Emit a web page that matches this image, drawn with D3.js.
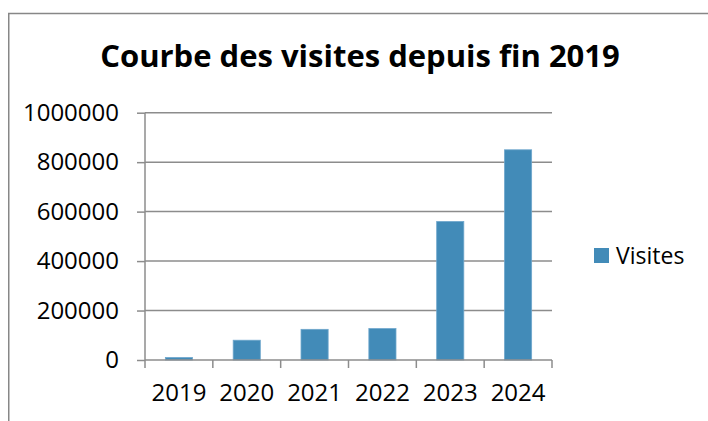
<!DOCTYPE html>
<meta charset="utf-8">
<script src="https://d3js.org/d3.v7.min.js"></script>
<style>
  body { margin: 0; background: #fff; }
  text { font-family: "Open Sans", sans-serif; fill: #000; }
</style>
<div id="chart"></div>
<script>
  // data
  const years = ["2019", "2020", "2021", "2022", "2023", "2024"];
  const visites = [10000, 80000, 124000, 127000, 560000, 850000];
  const yTicks = [0, 200000, 400000, 600000, 800000, 1000000];
  const seriesName = "Visites";
  const title = "Courbe des visites depuis fin 2019";

  const W = 708, H = 421;
  const margin = { top: 112.7, right: 156, bottom: 61, left: 145 };
  const width = W - margin.left - margin.right,
    height = H - margin.top - margin.bottom;

  const svg = d3.select("#chart").append("svg")
    .attr("width", W).attr("height", H);

  // outer frame
  svg.append("path")
    .attr("d", `M8.75,${H + 2}V13.5H${W + 2}`)
    .attr("fill", "none").attr("stroke", "#878787").attr("stroke-width", 1.5);

  svg.append("text")
    .attr("x", 360).attr("y", 67.3)
    .attr("text-anchor", "middle")
    .style("font-size", "31px").style("font-weight", "bold")
    .text(title);

  const g = svg.append("g").attr("transform", `translate(${margin.left},${margin.top})`);

  const x = d3.scaleBand().domain(years).range([0, width]).paddingInner(0.6).paddingOuter(0.3);
  const y = d3.scaleLinear().domain([0, 1000000]).range([height, 0]);

  // gridlines
  g.selectAll(".grid").data(yTicks.slice(1)).join("line")
    .attr("x1", 0).attr("x2", width)
    .attr("y1", d => y(d)).attr("y2", d => y(d))
    .attr("stroke", "#8c8c8c").attr("stroke-width", 1.5);

  // bars
  g.selectAll("rect").data(visites).join("rect")
    .attr("x", (d, i) => x(years[i]))
    .attr("y", d => y(d))
    .attr("width", x.bandwidth())
    .attr("height", d => height - y(d))
    .attr("fill", "#428bb8")
    .attr("stroke", "#6ea6cc").attr("stroke-width", 0.8);

  // y axis
  const yAxis = g.append("g")
    .call(d3.axisLeft(y).tickValues(yTicks).tickFormat(d3.format("d")).tickSize(8).tickPadding(18));
  yAxis.select(".domain").remove();
  yAxis.append("line").attr("y1", 0).attr("y2", height)
    .attr("stroke", "#8c8c8c").attr("stroke-width", 1.5);
  yAxis.selectAll(".tick line").attr("stroke", "#8c8c8c").attr("stroke-width", 1.5);
  yAxis.selectAll("text").style("font-size", "24px").attr("fill", "#000");

  // x axis
  const xAxis = g.append("g").attr("transform", `translate(0,${height})`)
    .call(d3.axisBottom(x).tickSize(0).tickPadding(24));
  xAxis.select(".domain").remove();
  xAxis.append("line").attr("x1", 0).attr("x2", width)
    .attr("stroke", "#8c8c8c").attr("stroke-width", 1.5);
  xAxis.selectAll(".bound").data(d3.range(years.length + 1)).join("line")
    .attr("x1", i => i * x.step()).attr("x2", i => i * x.step())
    .attr("y1", 0).attr("y2", 8)
    .attr("stroke", "#8c8c8c").attr("stroke-width", 1.5);
  xAxis.selectAll("text").style("font-size", "24px").attr("fill", "#000");

  // legend
  const leg = svg.append("g").attr("transform", "translate(594,248)");
  leg.append("rect").attr("width", 15).attr("height", 15).attr("fill", "#428bb8");
  leg.append("text").attr("x", 22).attr("y", 7.5).attr("dy", "0.36em")
    .style("font-size", "23px").text(seriesName);
</script>
